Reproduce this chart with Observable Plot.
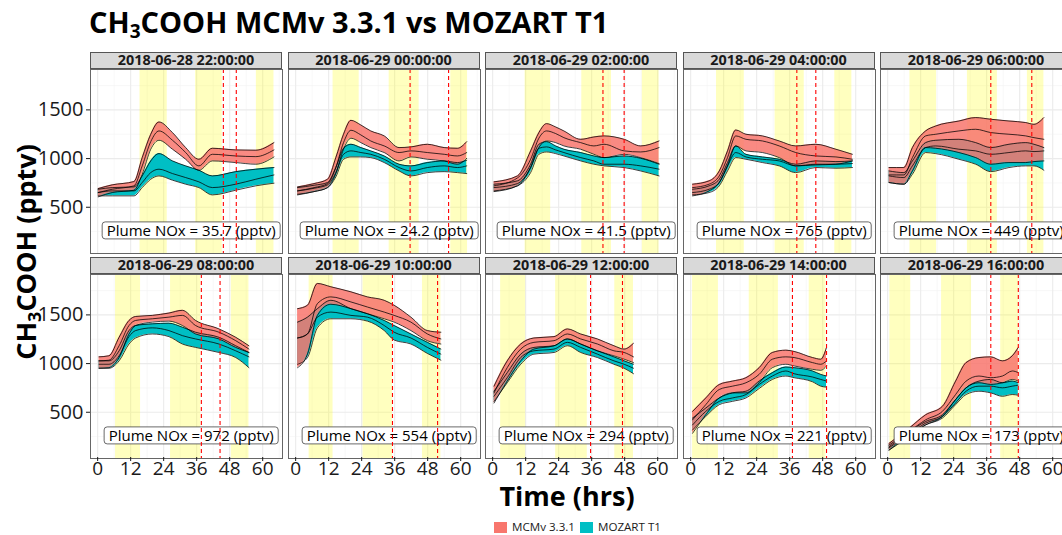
<!DOCTYPE html>
<html><head><meta charset="utf-8">
<script src="https://cdn.jsdelivr.net/npm/d3@7"></script>
<script src="https://cdn.jsdelivr.net/npm/@observablehq/plot@0.6"></script>
<style>
html,body{margin:0;padding:0;background:#fff;}
body{width:1062px;height:535px;overflow:hidden;position:relative;font-family:"Open Sans",sans-serif;}
#fig{position:absolute;left:0;top:0;height:535px;width:1062px;}
.strip{position:absolute;height:17px;background:#d9d9d9;border:1px solid #555;box-sizing:border-box;font-weight:bold;font-size:14.4px;text-align:center;line-height:14px;color:#1a1a1a;white-space:nowrap;}
.panel{position:absolute;}
.title{position:absolute;font-weight:bold;font-size:29px;white-space:nowrap;color:#000;}
.title sub{font-size:19px;vertical-align:-5px;line-height:0;}
.axtitle{position:absolute;font-weight:bold;font-size:27px;line-height:22px;white-space:nowrap;color:#000;}
.axtitle sub{font-size:18px;vertical-align:-5px;line-height:0;}
.legend{position:absolute;font-size:11.6px;line-height:14px;white-space:nowrap;color:#1a1a1a;display:flex;align-items:center;}
.key{display:inline-block;width:13px;height:11px;margin-right:5px;}
</style></head><body>
<div id="fig"></div>
<script>
// ---------- data ----------
const panelTimes = ["2018-06-28 22:00:00","2018-06-29 00:00:00","2018-06-29 02:00:00","2018-06-29 04:00:00","2018-06-29 06:00:00",
                    "2018-06-29 08:00:00","2018-06-29 10:00:00","2018-06-29 12:00:00","2018-06-29 14:00:00","2018-06-29 16:00:00"];
const plumeNOx = ["35.7","24.2","41.5","765","449","972","554","294","221","173"];
const seriesNames = ["MCMv 3.3.1","MOZART T1"];
const xTicks = [0,12,24,36,48,60];
const yTicks = [500,1000,1500];
const xMinor = [6,18,30,42,54,66];
const yMinor = [250,750,1250,1750];
// red dashed markers (hours)
const markerHours = [[45.7,50.4],[41.6,55.6],[40.1,47.8],[38.6,45.5],[37.5,52.4],[37.7,44.5],[35.2,51.6],[35.6,47.2],[37,49.4],[37.5,47.5]];
// yellow daylight bands (hours)
const dayBands = [
 [[15.4,25.3],[35.6,45.3],[57.7,64.1]],
 [[13.6,23.1],[34,44.9],[56.4,62.5]],
 [[11.8,21.1],[32.4,43.2],[54.4,60.5]],
 [[9.4,19.5],[30.7,41.3],[52.4,58.6]],
 [[8.1,17.8],[29,39.9],[50.8,56.8]],
 [[6.5,15.6],[26.5,37.5],[48.6,55]],
 [[4.9,13.6],[24.5,35.2],[46.1,52.8]],
 [[2.9,12],[22.9,34.4],[44.4,51.2]],
 [[0.7,10.1],[21.3,31.9],[43.1,49.2]],
 [[0.8,8.4],[19.6,30.5],[41.1,47.7]]
];
const hours = [
 [0.2,5.3,13.2,16.2,19.3,22.3,27.2,32,36.8,41.7,50.2,57.5,64.1],
 [0.7,6.7,11.6,14.6,17.4,20.1,23.7,27.3,32.2,37.6,41.9,47.9,54,58.8,62.2],
 [0.5,9,13.8,16.8,19.6,22.9,25.9,32,36.8,40.5,47.8,53.8,60.5],
 [0.7,6.7,10.4,13.4,16.4,20.1,26.1,32.2,38.2,45.5,52.8,58.8],
 [0.5,5.9,9,13.8,17.5,25.9,32,37.5,44.1,50.2,53.2,56.8],
 [0.5,4.1,7.8,11.4,13.8,19.9,25.9,30.8,35.6,44.1,50.2,55],
 [0.7,4.3,7.9,12.8,20.1,26.1,32.2,35.8,41.9,47.9,52.8],
 [0.5,5.3,10.2,15,22.3,27.2,32,38.1,44.1,47.8,51.2],
 [0.7,5.5,10.4,15.2,20.1,24.9,29.7,34.6,37.6,44.3,47.3,49.4],
 [0.5,7.8,13.8,19.9,24.7,28.5,33.2,37.5,41.7,45.3,47.5]
];
const mcmHigh = [
 [692,730,764,1010,1250,1376,1267,1113,993,1106,1089,1086,1164],
 [709,743,788,1010,1250,1393,1345,1284,1233,1113,1120,1147,1113,1106,1174],
 [761,822,1079,1267,1359,1325,1284,1198,1222,1233,1198,1130,1181],
 [737,771,873,1079,1294,1250,1233,1181,1130,1147,1096,1044],
 [908,908,1113,1284,1335,1386,1421,1404,1386,1370,1352,1421],
 [1069,1080,1270,1443,1484,1495,1519,1547,1443,1356,1270,1183],
 [1564,1599,1823,1789,1737,1685,1650,1599,1477,1339,1322],
 [768,1028,1201,1263,1277,1356,1304,1253,1183,1149,1208],
 [509,647,785,820,855,958,1114,1138,1125,1062,1045,1166],
 [180,336,474,561,820,1010,1062,1069,1028,1080,1166]
];
const mcmMid = [
 [651,685,720,925,1174,1284,1188,1062,925,1044,1027,1020,1089],
 [668,702,743,908,1164,1291,1243,1181,1130,1062,1079,1062,1044,1027,1062],
 [720,801,993,1209,1284,1257,1215,1164,1130,1147,1079,1068,1113],
 [702,737,822,1010,1233,1198,1181,1130,1062,1027,1017,993],
 [832,832,1010,1233,1250,1284,1301,1267,1250,1233,1215,1198],
 [1028,1035,1183,1391,1443,1460,1477,1495,1391,1322,1235,1149],
 [1263,1304,1616,1685,1633,1581,1529,1495,1426,1304,1253],
 [699,958,1149,1218,1235,1304,1253,1201,1131,1114,1069],
 [422,578,734,768,803,889,1045,1069,1062,1010,993,1028],
 [145,301,422,509,682,820,872,855,872,924,907]
];
const mcmLow = [
 [607,651,675,839,1096,1188,1096,993,880,976,959,942,1017],
 [627,661,702,846,1096,1209,1164,1113,1062,976,1017,993,976,942,1003],
 [661,720,908,1113,1181,1164,1130,1096,1044,1010,1044,1010,949],
 [617,668,754,925,1130,1079,1062,1010,925,935,942,976],
 [754,737,873,1113,1106,1062,1010,942,959,959,969,976],
 [952,958,1062,1304,1391,1426,1436,1391,1304,1253,1166,1114],
 [958,1097,1495,1609,1564,1512,1460,1426,1339,1235,1201],
 [595,820,1028,1149,1183,1253,1201,1131,1080,1045,1010],
 [284,474,647,699,699,803,958,993,976,941,931,976],
 [111,266,370,457,630,751,803,786,803,837,820]
];
const mozHigh = [
 [685,702,709,822,976,1051,976,925,880,822,866,891,908],
 [702,726,754,908,1106,1147,1113,1079,1027,942,925,959,976,959,983],
 [737,771,942,1147,1174,1130,1096,1062,1027,1010,1027,1003,942],
 [685,720,788,959,1130,1044,1017,993,942,976,969,976],
 [873,856,976,1164,1188,1198,1164,1113,1147,1164,1147,1113],
 [1028,1028,1131,1339,1391,1408,1415,1374,1322,1270,1183,1114],
 [1426,1477,1564,1650,1564,1512,1443,1391,1304,1218,1149],
 [716,907,1097,1166,1183,1253,1201,1131,1069,1028,993],
 [440,543,647,699,716,820,907,965,958,924,889,872],
 [163,301,405,474,630,751,820,837,803,820,803]
];
const mozMid = [
 [651,668,668,754,856,891,846,805,761,702,737,788,832],
 [668,695,730,856,1044,1079,1062,1044,993,908,873,908,925,908,925],
 [702,743,908,1106,1120,1089,1062,1010,976,942,942,925,891],
 [651,685,754,925,1062,1017,993,976,925,942,942,949],
 [822,805,925,1113,1130,1096,1079,1044,1062,1079,1072,1079],
 [993,993,1080,1277,1339,1367,1339,1287,1253,1201,1131,1069],
 [1263,1304,1477,1529,1495,1477,1391,1322,1263,1166,1097],
 [664,855,1062,1131,1149,1218,1166,1097,1028,993,952],
 [370,509,612,647,682,785,872,924,896,862,837,820],
 [135,273,388,457,595,716,768,768,751,768,779]
];
const mozLow = [
 [617,617,617,702,788,822,778,737,702,627,675,720,747],
 [634,661,702,812,993,1017,1017,1010,959,873,822,856,866,856,846],
 [668,720,856,1044,1068,1051,1027,976,942,925,908,873,822],
 [627,651,720,873,1010,993,959,925,856,908,901,908],
 [754,737,839,1062,1051,993,942,866,908,925,925,880],
 [952,952,1028,1201,1263,1304,1277,1201,1166,1114,1062,958],
 [993,1062,1367,1460,1460,1436,1339,1242,1201,1104,1035],
 [612,803,993,1097,1114,1183,1114,1062,993,952,896],
 [318,457,578,612,647,744,837,872,855,813,768,758],
 [111,249,370,440,578,682,716,699,664,682,675]
];

// ---------- layout / style ----------
const colors = {mcm:"#F8766D", moz:"#00BFC4"};
const xDomain = [-2.6, 67.2], yDomain = [25, 1915];
const panelW = 192, panelH = 184, colStep = 197.5, col0 = 90;
const stripTop = [52, 257], panelTop = [69, 274];
const labelHour = 34, labelLevel = 250;
const curve = "monotone-x";

const fig = document.getElementById("fig");
function addDiv(cls, html, css){ const d=document.createElement("div"); d.className=cls; d.innerHTML=html; Object.assign(d.style,css); fig.appendChild(d); return d; }

addDiv("title","CH<sub>3</sub>COOH MCMv 3.3.1 vs MOZART T1",{left:"89px",top:"2px"});

const svgNS = "http://www.w3.org/2000/svg";
for (let i=0;i<10;i++){
  const r=Math.floor(i/5), c=i%5;
  const n=Math.min(hours[i].length,mcmHigh[i].length,mcmMid[i].length,mcmLow[i].length,mozHigh[i].length,mozMid[i].length,mozLow[i].length);
  const rows=d3.range(n).map(k=>({t:hours[i][k],mh:mcmHigh[i][k],mm:mcmMid[i][k],ml:mcmLow[i][k],zh:mozHigh[i][k],zm:mozMid[i][k],zl:mozLow[i][k]}));
  const mL = c===0 ? 75 : 0, mB = r===1 ? 30 : 0;
  const lineOpt = k => ({x:"t", y:k, stroke:"#000", strokeWidth:0.75, curve});
  const marks = [
    Plot.ruleX(xMinor,{stroke:"#f4f4f4",strokeWidth:0.6}),
    Plot.ruleY(yMinor,{stroke:"#f4f4f4",strokeWidth:0.6}),
    Plot.ruleX(xTicks,{stroke:"#ebebeb",strokeWidth:1.1}),
    Plot.ruleY(yTicks,{stroke:"#ebebeb",strokeWidth:1.1}),
    Plot.rect(dayBands[i],{x1:d=>d[0],x2:d=>d[1],fill:"#ffff00",fillOpacity:0.25}),
    Plot.areaY(rows,{x:"t",y1:"zl",y2:"zh",fill:colors.moz,curve}),
    Plot.areaY(rows,{x:"t",y1:"ml",y2:"mh",fill:colors.mcm,fillOpacity:0.85,curve}),
    Plot.line(rows,lineOpt("zh")), Plot.line(rows,lineOpt("zl")), Plot.line(rows,lineOpt("zm")),
    Plot.line(rows,lineOpt("mh")), Plot.line(rows,lineOpt("ml")), Plot.line(rows,lineOpt("mm")),
    Plot.text([plumeNOx[i]],{x:()=>labelHour,y:()=>labelLevel,text:d=>`Plume NOx = ${d} (pptv)`,fontSize:15,fill:"#000"}),
    Plot.ruleX(markerHours[i],{stroke:"#ff0000",strokeWidth:1.1,strokeDasharray:"4,3"}),
    Plot.frame({stroke:"#666",strokeWidth:1})
  ];
  if (c===0) marks.push(Plot.axisY({ticks:yTicks,tickSize:4,tickPadding:3,fontSize:20,label:null,color:"#1a1a1a",tickFormat:d=>String(d)}));
  if (r===1) marks.push(Plot.axisX({ticks:xTicks,tickSize:4,tickPadding:0,fontSize:19,dy:-1,label:null,color:"#1a1a1a"}));
  const svg = Plot.plot({
    width:panelW+mL, height:panelH+mB,
    marginLeft:mL, marginRight:0, marginTop:0, marginBottom:mB,
    x:{domain:xDomain, axis: r===1 ? undefined : null},
    y:{domain:yDomain, axis: c===0 ? undefined : null},
    style:{fontFamily:"Open Sans",background:"transparent",overflow:"visible"},
    marks
  });
  svg.classList.add("panel");
  svg.style.left = (col0+c*colStep-mL)+"px";
  svg.style.top = panelTop[r]+"px";
  fig.appendChild(svg);
  addDiv("strip", panelTimes[i], {left:(col0+c*colStep)+"px", top:stripTop[r]+"px", width:panelW+"px"});
  // rounded label boxes behind the plume text
  Array.from(svg.querySelectorAll("text")).filter(t=>t.textContent.startsWith("Plume")).forEach(t=>{
    const b=t.getBBox();
    const rect=document.createElementNS(svgNS,"rect");
    rect.setAttribute("x",b.x-4.5); rect.setAttribute("y",b.y+1.5);
    rect.setAttribute("width",b.width+9); rect.setAttribute("height",Math.max(0,b.height-3));
    rect.setAttribute("rx",3); rect.setAttribute("fill","#fff"); rect.setAttribute("stroke","#444"); rect.setAttribute("stroke-width",0.8);
    const tr=t.getAttribute("transform"); if (tr) rect.setAttribute("transform",tr);
    t.parentNode.insertBefore(rect,t);
  });
}

addDiv("axtitle","CH<sub>3</sub>COOH (pptv)",{left:"26px",top:"252px",transform:"translate(-50%,-50%) rotate(-90deg)"});
addDiv("axtitle","Time (hrs)",{left:"567px",top:"496px",transform:"translate(-50%,-50%)"});
addDiv("legend",`<span class="key" style="background:${colors.mcm}"></span>${seriesNames[0]}<span class="key" style="background:${colors.moz};margin-left:5px"></span>${seriesNames[1]}`,{left:"494px",top:"520px"});
</script></body></html>
